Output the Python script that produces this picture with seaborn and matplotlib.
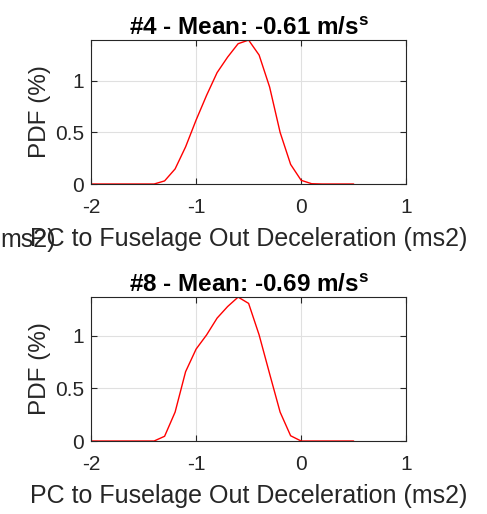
import numpy as np
import pandas as pd
import matplotlib
matplotlib.use("Agg")
import matplotlib.pyplot as plt
import seaborn as sns

# deceleration bins (ms2) and PDF values (%)
decel = [-2.0, -1.9, -1.8, -1.7, -1.6, -1.5, -1.4, -1.3, -1.2, -1.1, -1.0,
         -0.9, -0.8, -0.7, -0.6, -0.5, -0.4, -0.3, -0.2, -0.1, 0.0,
         0.1, 0.2, 0.3, 0.4, 0.5]
pdf_4 = [0, 0, 0, 0, 0, 0, 0, 0.03, 0.146, 0.36, 0.62,
         0.86, 1.08, 1.23, 1.36, 1.395, 1.25, 0.94, 0.50, 0.19, 0.036,
         0.003, 0, 0, 0, 0]
pdf_8 = [0, 0, 0, 0, 0, 0, 0, 0.045, 0.275, 0.66, 0.875,
         1.01, 1.17, 1.28, 1.37, 1.31, 1.01, 0.64, 0.275, 0.05, 0.0,
         0, 0, 0, 0, 0]
titles = ["#4 - Mean: -0.61 m/s$^\\mathbf{s}$", "#8 - Mean: -0.69 m/s$^\\mathbf{s}$"]
xlabel = "PC to Fuselage Out Deceleration (ms2)"

sns.set_theme(style="ticks")
plt.rcParams["font.family"] = ["Liberation Sans", "DejaVu Sans"]
plt.rcParams["mathtext.fontset"] = "custom"
plt.rcParams["mathtext.rm"] = "Liberation Sans"
plt.rcParams["mathtext.bf"] = "Liberation Sans:bold"
plt.rcParams["axes.unicode_minus"] = False

fig = plt.figure(figsize=(4.87, 5.14), dpi=100)
ax_top = fig.add_axes([0.187, 0.642, 0.647, 0.280])
ax_bot = fig.add_axes([0.187, 0.142, 0.647, 0.280])

dark = "#262626"
for ax, pdf, title in [(ax_top, pdf_4, titles[0]), (ax_bot, pdf_8, titles[1])]:
    df = pd.DataFrame({"x": decel, "y": pdf})
    sns.lineplot(data=df, x="x", y="y", ax=ax, color="red", lw=1.0)
    ax.set_xlim(-2, 1)
    ax.set_ylim(0, max(pdf))
    ax.set_xticks([-2, -1, 0, 1])
    ax.set_yticks([0, 0.5, 1])
    ax.set_yticklabels(["0", "0.5", "1"])
    ax.grid(True, color="#e0e0e0", lw=0.8)
    ax.tick_params(direction="in", top=True, right=True, length=4,
                   labelsize=15, colors=dark, width=0.8)
    ax.tick_params(axis="x", pad=10)
    ax.tick_params(axis="y", pad=5)
    for s in ax.spines.values():
        s.set_visible(True)
        s.set_color(dark)
        s.set_linewidth(0.8)
    ax.set_title(title, fontsize=17.5, fontweight="bold", color="black", pad=4)
    ax.set_ylabel("PDF (%)", fontsize=17.5, color=dark, labelpad=3)
    ax.set_xlabel(xlabel, fontsize=18, color=dark, labelpad=7)

# neighbouring subplot's label end that spills into this panel
fig.text(0.0, 1 - 240 / 514, "ms2)", ha="left", va="center",
         fontsize=18, color=dark)

fig.savefig("out.png", dpi=100)
